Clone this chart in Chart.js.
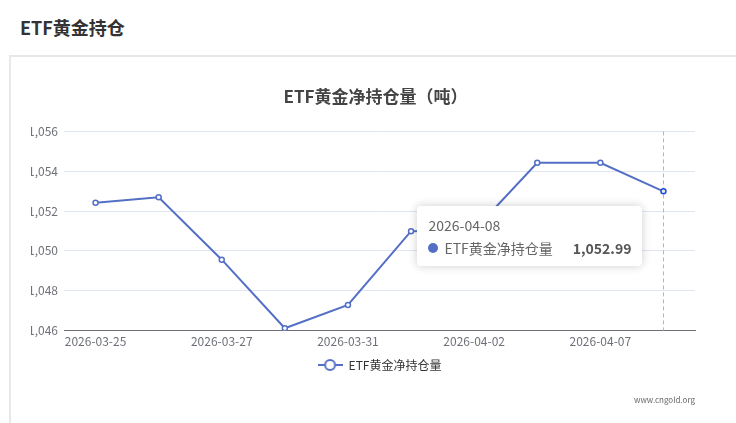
<!DOCTYPE html>
<html>
<head>
<meta charset="utf-8">
<script src="https://cdn.jsdelivr.net/npm/chart.js@4"></script>
<style>
  body { margin: 0; background: #fff; width: 736px; height: 423px; overflow: hidden; position: relative;
         font-family: 'Noto Sans CJK SC', 'Noto Sans', sans-serif; }
  #head { position: absolute; left: 20px; top: 14px; font-size: 18px; font-weight: bold; color: #333; }
  #panel { position: absolute; left: 9px; top: 55px; width: 740px; height: 380px;
           border-top: 2px solid #e8e8e8; border-left: 2px solid #e8e8e8; }
  #chart { position: absolute; left: 0; top: 0; clip-path: inset(0 0 0 31px); }
  #src { position: absolute; left: 634px; top: 394px; font-size: 8px; color: #666; }
  #tip { position: absolute; display: none; width: 225px; height: 60px; box-sizing: border-box;
         background: #fff; border-radius: 4px; box-shadow: 0 0 10px rgba(0,0,0,0.2); padding: 8px 11px 6px; }
  #tip .t-title { font-size: 14px; color: #666; line-height: 22px; }
  #tip .t-row { font-size: 14px; color: #666; line-height: 22px; display: flex; align-items: center; margin-top: 1px; }
  #tip .dot { width: 10px; height: 10px; border-radius: 5px; background: #5470c6; margin-right: 6px; }
  #tip .t-value { margin-left: auto; font-weight: bold; color: #555; }
</style>
</head>
<body>
<div id="head">ETF黄金持仓</div>
<div id="panel"></div>
<canvas id="chart" width="736" height="423"></canvas>
<div id="src">www.cngold.org</div>
<div id="tip"><div class="t-title"></div><div class="t-row"><span class="dot"></span><span>ETF黄金净持仓量</span><span class="t-value"></span></div></div>
<script>
const dates = ['2026-03-25', '2026-03-26', '2026-03-27', '2026-03-30', '2026-03-31',
               '2026-04-01', '2026-04-02', '2026-04-03', '2026-04-07', '2026-04-08'];
const holdings = [1052.42, 1052.69, 1049.56, 1046.12, 1047.29, 1050.99, 1051.04, 1054.42, 1054.42, 1052.99];
const yTicks = [1046, 1048, 1050, 1052, 1054, 1056];
const seriesName = 'ETF黄金净持仓量';
const activeIndex = 9;

const fmt = (v, d) => v.toLocaleString('en-US', { minimumFractionDigits: d, maximumFractionDigits: d });

// legend icon: line with hollow circle
const icon = document.createElement('canvas');
icon.width = 25; icon.height = 14;
(function () {
  const c = icon.getContext('2d');
  c.strokeStyle = '#5470c6';
  c.lineWidth = 2;
  c.beginPath(); c.moveTo(0, 7); c.lineTo(25, 7); c.stroke();
  c.beginPath(); c.arc(12.5, 7, 5, 0, Math.PI * 2);
  c.fillStyle = '#fff'; c.fill(); c.stroke();
})();

function externalTooltip(context) {
  const el = document.getElementById('tip');
  const t = context.tooltip;
  if (t.opacity === 0) { el.style.display = 'none'; return; }
  const i = t.dataPoints[0].dataIndex;
  el.querySelector('.t-title').textContent = dates[i];
  el.querySelector('.t-value').textContent = fmt(holdings[i], 2);
  el.style.display = 'block';
  el.style.left = (t.caretX - 246) + 'px';
  el.style.top = (t.caretY + 15) + 'px';
}

const pointerLine = {
  id: 'pointerLine',
  beforeDatasetsDraw(chart) {
    const active = chart.tooltip.getActiveElements();
    if (!active.length) return;
    const x = chart.scales.x.getPixelForValue(active[0].index);
    const { top, bottom } = chart.chartArea;
    const ctx = chart.ctx;
    ctx.save();
    ctx.strokeStyle = '#b6b6b6';
    ctx.lineWidth = 1;
    ctx.setLineDash([4, 3]);
    ctx.beginPath();
    ctx.moveTo(Math.round(x) + 0.5, top);
    ctx.lineTo(Math.round(x) + 0.5, bottom);
    ctx.stroke();
    ctx.restore();
  }
};

Chart.defaults.font.family = "'Noto Sans CJK SC', 'Noto Sans', sans-serif";
Chart.defaults.animation = false;

const chart = new Chart(document.getElementById('chart'), {
  type: 'line',
  data: {
    labels: dates,
    datasets: [{
      label: seriesName,
      data: holdings,
      borderColor: '#5470c6',
      borderWidth: 2,
      backgroundColor: '#fff',
      pointRadius: 2.5,
      pointHoverRadius: 2.5,
      pointBorderWidth: 1.5,
      pointHoverBorderWidth: 1.5,
      pointBackgroundColor: '#fff',
      tension: 0
    }]
  },
  options: {
    responsive: false,
    events: [],
    layout: { padding: { top: 86, left: 24, right: 9, bottom: 42 } },
    scales: {
      x: {
        offset: true,
        grid: { display: false, drawTicks: false },
        border: { color: '#6e7079', width: 1 },
        ticks: {
          autoSkip: false, maxRotation: 0, padding: 4,
          color: '#6e7079', font: { size: 12 },
          callback: (v, i) => (i % 2 === 0 ? dates[i] : '')
        }
      },
      y: {
        min: yTicks[0],
        max: yTicks[yTicks.length - 1],
        afterFit: s => { s.width = 40; },
        afterBuildTicks: s => { s.ticks = yTicks.map(v => ({ value: v })); },
        grid: { color: '#e0e6f1', drawTicks: false },
        border: { display: false },
        ticks: { color: '#6e7079', font: { size: 12 }, padding: 6, callback: v => fmt(v, 0) }
      },
      // empty right-hand spacer so the title centres like the reference
      y2: {
        position: 'right',
        afterFit: s => { s.width = 32; },
        grid: { display: false, drawTicks: false },
        border: { display: false },
        ticks: { display: false }
      }
    },
    plugins: {
      title: {
        display: true,
        text: 'ETF黄金净持仓量（吨）',
        color: '#444',
        font: { size: 17, weight: 'bold' },
        padding: { top: 0, bottom: 25 }
      },
      legend: {
        position: 'bottom',
        fullSize: false,
        labels: {
          usePointStyle: true,
          pointStyleWidth: 25,
          color: '#333',
          font: { size: 12 },
          padding: 6,
          generateLabels: () => [{ text: seriesName, pointStyle: icon, fontColor: '#333', lineWidth: 0, strokeStyle: 'transparent', fillStyle: 'transparent' }]
        }
      },
      tooltip: { enabled: false, external: externalTooltip }
    }
  },
  plugins: [pointerLine]
});

const el = chart.getDatasetMeta(0).data[activeIndex];
chart.tooltip.setActiveElements([{ datasetIndex: 0, index: activeIndex }], { x: el.x, y: el.y });
chart.setActiveElements([{ datasetIndex: 0, index: activeIndex }]);
chart.update();
</script>
</body>
</html>
